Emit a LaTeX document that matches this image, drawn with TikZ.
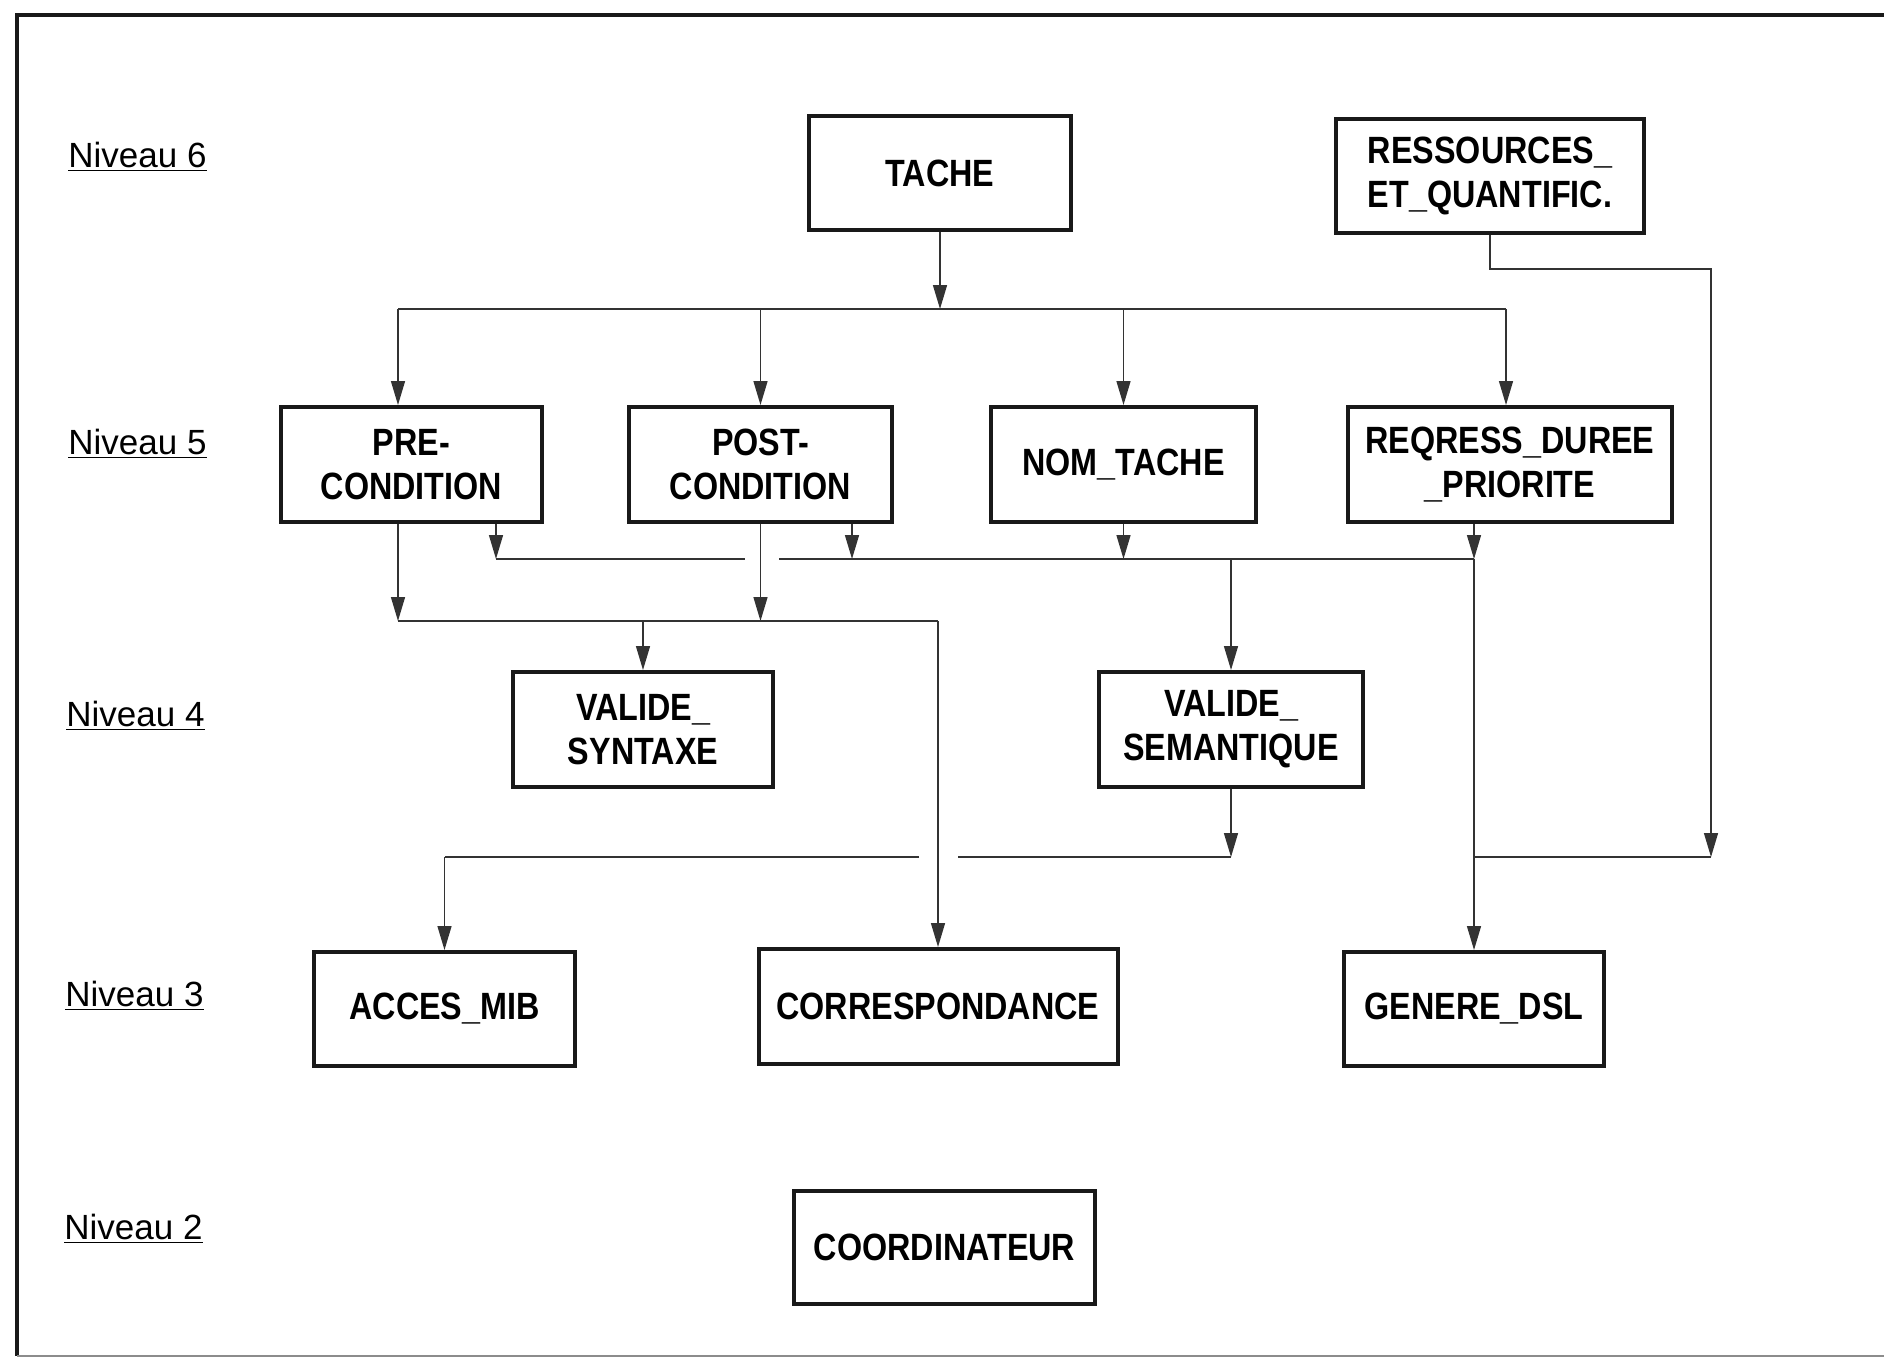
\documentclass[tikz,border=0pt]{standalone}
\usepackage{fontspec}
\setmainfont{Liberation Sans}
\newfontfamily\boxfont[FakeStretch=0.85]{Liberation Sans}
\usetikzlibrary{arrows.meta}

\begin{document}
\begin{tikzpicture}[x=0.5pt,y=-0.5pt,
  box/.style 2 args={draw=black!90, line width=2pt, minimum width=#1, minimum height=#2,
    inner sep=0pt, align=center, font=\boxfont\bfseries\fontsize{19}{22}\selectfont},
  link/.style={line width=0.7pt, draw=black!80},
  arr/.style={link, -{Triangle[width=7pt,length=12pt]}},
  level/.style={anchor=west, inner sep=0pt, font=\fontsize{17.5}{20}\selectfont}
]
\useasboundingbox (0,0) rectangle (1884,1361);
\fill[white] (0,0) rectangle (1884,1361);

% outer frame
\draw[line width=2.2pt, black!90] (1884,15) -- (17,15) -- (17,1356);
\draw[line width=1pt, black!45] (17,1356) -- (1884,1356);

% level labels
\node[level] (n6) at (68,157)  {\underline{Niveau 6}};
\node[level] (n5) at (68,444)  {\underline{Niveau 5}};
\node[level] (n4) at (66,716)  {\underline{Niveau 4}};
\node[level] (n3) at (65,996)  {\underline{Niveau 3}};
\node[level] (n2) at (64,1229) {\underline{Niveau 2}};

% modules
\node[box={131pt}{57pt}]     (tache)   at (940,173)    {TACHE};
\node[box={154pt}{57pt}, align=left] (ress) at (1490,176) {RESSOURCES\_\\ET\_QUANTIFIC.};
\node[box={130.5pt}{57.5pt}] (pre)     at (411.5,464.5) {PRE-\\CONDITION};
\node[box={131.5pt}{57.5pt}] (post)    at (760.5,464.5) {POST-\\CONDITION};
\node[box={132.5pt}{57.5pt}] (nom)     at (1123.5,464.5) {NOM\_TACHE};
\node[box={162pt}{57.5pt}]   (reqress) at (1510,464.5) {REQRESS\_DUREE\\\_PRIORITE};
\node[box={130pt}{57.5pt}]   (vsyn)    at (643,729.5)  {VALIDE\_\\SYNTAXE};
\node[box={132pt}{57.5pt}]   (vsem)    at (1231,729.5) {VALIDE\_\\SEMANTIQUE};
\node[box={130.5pt}{57pt}]   (acces)   at (444.5,1009) {ACCES\_MIB};
\node[box={179.5pt}{57.5pt}] (corr)    at (938,1006.5) {CORRESPONDANCE};
\node[box={130pt}{57pt}]     (genere)  at (1474,1009)  {GENERE\_DSL};
\node[box={150.5pt}{56.5pt}] (coord)   at (944.5,1247.5) {COORDINATEUR};

% bus below TACHE
\coordinate (b1)  at (940,309);
\coordinate (b1l) at (398,309);
\coordinate (b1r) at (1506,309);
\draw[arr] (tache.south) -- (b1);
\draw[link] (b1l) -- (b1r);
\draw[arr] (b1l) -- (b1l |- pre.north);
\draw[arr] (post.north |- b1) -- (post.north);
\draw[arr] (nom.north |- b1) -- (nom.north);
\draw[arr] (b1r) -- (b1r |- reqress.north);

% bus towards VALIDE_SEMANTIQUE and GENERE_DSL
\coordinate (b3l) at (496,559);
\coordinate (b3p) at (852,559);
\coordinate (b3r) at (1474,559);
\coordinate (b3g1) at (745,559);
\coordinate (b3g2) at (779,559);
\draw[link] (b3l) -- (b3g1);
\draw[link] (b3g2) -- (b3r);
\draw[arr] (b3l |- pre.south) -- (b3l);
\draw[arr] (b3p |- post.south) -- (b3p);
\draw[arr] (nom.south) -- (nom.south |- b3l);
\draw[arr] (b3r |- reqress.south) -- (b3r);
\draw[arr] (vsem.north |- b3l) -- (vsem.north);
\draw[arr] (b3r) -- (genere.north);

% bus towards VALIDE_SYNTAXE and CORRESPONDANCE
\coordinate (b2l) at (398,621);
\coordinate (b2r) at (938,621);
\draw[arr] (b2l |- pre.south) -- (b2l);
\draw[arr] (post.south) -- (post.south |- b2l);
\draw[link] (b2l) -- (b2r);
\draw[arr] (vsyn.north |- b2l) -- (vsyn.north);
\draw[arr] (b2r) -- (corr.north);

% bus towards ACCES_MIB
\coordinate (b4l) at (444.5,857);
\coordinate (b4r) at (1231,857);
\coordinate (b4g1) at (919,857);
\coordinate (b4g2) at (958,857);
\draw[arr] (vsem.south) -- (b4r);
\draw[link] (b4r) -- (b4g2);
\draw[link] (b4g1) -- (b4l);
\draw[arr] (b4l) -- (acces.north);

% RESSOURCES_ET_QUANTIFIC. towards GENERE_DSL
\coordinate (rc)  at (1711,269);
\coordinate (j5r) at (1711,857);
\coordinate (j5l) at (1474,857);
\draw[arr] (ress.south) |- (rc) -- (j5r);
\draw[link] (j5r) -- (j5l);
\end{tikzpicture}
\end{document}
